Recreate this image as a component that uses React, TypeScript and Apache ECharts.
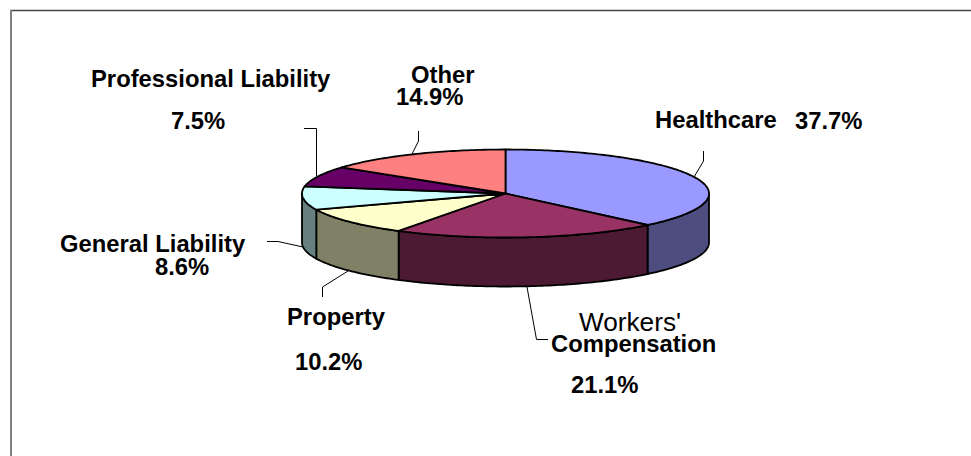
import React, { useEffect, useRef } from "react";
import * as echarts from "echarts";

const categories = ["Healthcare", "Workers' Compensation", "Property", "General Liability", "Professional Liability", "Other"];
const shares = [37.7, 21.1, 10.2, 8.6, 7.5, 14.9];
const topColors = ["#9999FF", "#993366", "#FFFFCC", "#CCFFFF", "#660066", "#FF8080"];
const sideColors = ["#4D4D80", "#4D1A33", "#808066", "#668080", "#330033", "#804040"];

const CX = 505.5;
const CY = 193.5;
const RX = 203.5;
const RY = 44;
const DEPTH = 49;
const STROKE = 1.8;

const total = shares.reduce((a, b) => a + b, 0);
const startAngles: number[] = [];
shares.reduce((acc, v, i) => {
  startAngles[i] = acc;
  return acc + (v / total) * 360;
}, 0);

const pt = (deg: number, dy = 0): number[] => {
  const r = (deg * Math.PI) / 180;
  return [CX + RX * Math.sin(r), CY - RY * Math.cos(r) + dy];
};

const arc = (a: number, b: number, dy = 0): number[][] => {
  const n = Math.max(2, Math.ceil(Math.abs(b - a)));
  const out: number[][] = [];
  for (let i = 0; i <= n; i++) out.push(pt(a + ((b - a) * i) / n, dy));
  return out;
};

const renderSide = (params: any, api: any) => {
  const i = params.dataIndex;
  const a = startAngles[i];
  const b = a + (api.value(0) / total) * 360;
  const s = Math.max(a, 90);
  const e = Math.min(b, 270);
  if (e <= s) return { type: "group", children: [] };
  return {
    type: "polygon",
    shape: { points: [...arc(s, e), ...arc(e, s, DEPTH)] },
    style: { fill: sideColors[i], stroke: "#000", lineWidth: STROKE, lineJoin: "round" },
  };
};

const renderTop = (params: any, api: any) => {
  const i = params.dataIndex;
  const a = startAngles[i];
  const b = a + (api.value(0) / total) * 360;
  return {
    type: "polygon",
    shape: { points: [[CX, CY], ...arc(a, b)] },
    style: { fill: topColors[i], stroke: "#000", lineWidth: STROKE, lineJoin: "round" },
  };
};

const FONT = "Liberation Sans, Arial, sans-serif";
const boldText = (x: number, y: number, text: string) => ({
  type: "text",
  x,
  y: y - 1,
  style: { text, fill: "#000", font: `bold 23.8px ${FONT}`, textAlign: "left", textVerticalAlign: "middle" },
});
const plainText = (x: number, y: number, text: string) => ({
  type: "text",
  x,
  y: y - 1,
  style: { text, fill: "#000", font: `26.2px ${FONT}`, textAlign: "left", textVerticalAlign: "middle" },
});
const leader = (points: number[][]) => ({
  type: "polyline",
  shape: { points },
  style: { stroke: "#000", lineWidth: 1, fill: "none" },
});

export default function App() {
  const ref = useRef<HTMLDivElement>(null);
  useEffect(() => {
    document.body.style.margin = "0";
    const chart = echarts.init(ref.current!, null, { renderer: "svg" });
    chart.setOption({
      animation: false,
      backgroundColor: "#fff",
      series: [
        {
          type: "custom",
          coordinateSystem: "none",
          name: "rim",
          z: 2,
          silent: true,
          renderItem: renderSide,
          data: shares.map((v, i) => ({ name: categories[i], value: [v] })),
        },
        {
          type: "custom",
          coordinateSystem: "none",
          name: "top",
          z: 3,
          silent: true,
          renderItem: renderTop,
          data: shares.map((v, i) => ({ name: categories[i], value: [v] })),
        },
      ],
      graphic: [
        {
          type: "line",
          shape: { x1: 10, y1: 10.5, x2: 971, y2: 10.5 },
          style: { stroke: "#444", lineWidth: 1.6 },
        },
        {
          type: "line",
          shape: { x1: 11, y1: 10, x2: 11, y2: 456 },
          style: { stroke: "#808080", lineWidth: 2 },
        },
        leader([[694, 177], [703.5, 161], [703.5, 151]]),
        leader([[412, 154], [418.5, 141], [418.5, 131]]),
        leader([[316.5, 176], [316.5, 128.5], [304, 128.5]]),
        leader([[303, 247], [278, 241.5], [267, 241.5]]),
        leader([[348, 271], [322.5, 287], [322.5, 297]]),
        leader([[527, 287], [536.5, 339.5], [548, 339.5]]),
        boldText(91, 79, "Professional Liability"),
        boldText(171, 121, "7.5%"),
        boldText(411, 75, "Other"),
        boldText(396, 97, "14.9%"),
        boldText(655, 120, "Healthcare"),
        boldText(795, 121, "37.7%"),
        boldText(60, 244, "General Liability"),
        boldText(155, 267, "8.6%"),
        boldText(287, 317, "Property"),
        boldText(295, 362, "10.2%"),
        plainText(579, 323, "Workers'"),
        boldText(551, 344, "Compensation"),
        boldText(571, 385, "21.1%"),
      ],
    });
    return () => chart.dispose();
  }, []);
  return <div ref={ref} style={{ width: 971, height: 456 }} />;
}
